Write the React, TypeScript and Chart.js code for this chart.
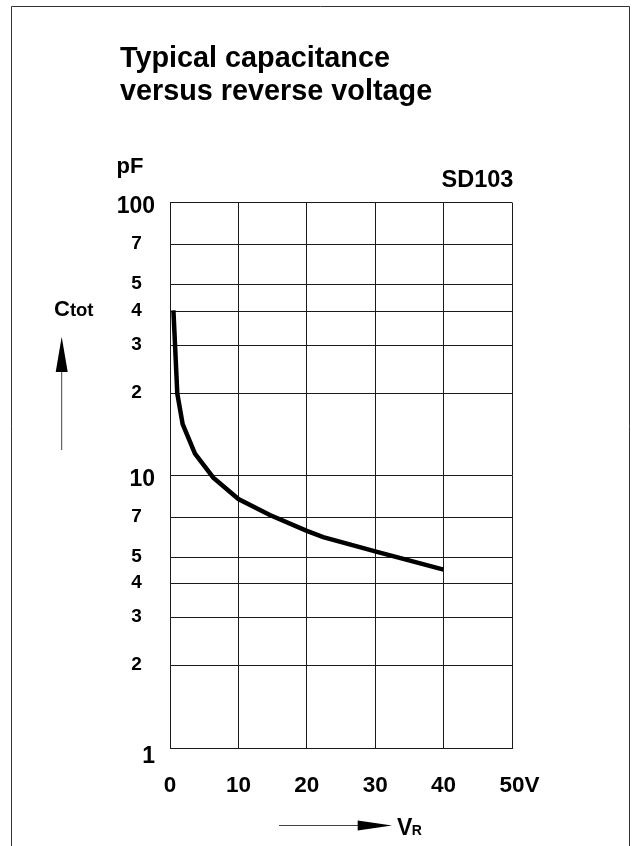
import React, { useEffect, useRef } from "react";
import { Chart, registerables } from "chart.js";

Chart.register(...registerables);

// ---- data ----
const vrVolts = [0.5, 1.07, 1.85, 3.65, 6.33, 10, 14.6, 20, 22.4, 30, 40];
const ctotPf = [40.2, 19.9, 15.4, 12.0, 9.8, 8.18, 7.15, 6.25, 5.93, 5.26, 4.51];

const yTickValues = [1, 2, 3, 4, 5, 7, 10, 20, 30, 40, 50, 70, 100];
const yTickLabels = ["1", "2", "3", "4", "5", "7", "10", "2", "3", "4", "5", "7", "100"];
const yMajorTicks = [1, 10, 100];

const xTickValues = [0, 10, 20, 30, 40, 50];
const xTickLabels = ["0", "10", "20", "30", "40", "50V"];

const titleLines = ["Typical capacitance", "versus reverse voltage"];
const unitLabel = "pF";
const deviceLabel = "SD103";

const FONT = '"Liberation Sans", Arial, Helvetica, sans-serif';

const decorPlugin = {
  id: "decor",
  afterDraw(chart: any) {
    const ctx: CanvasRenderingContext2D = chart.ctx;
    const xs = chart.scales.x;
    const ys = chart.scales.y;
    ctx.save();

    // outer frame (no bottom edge)
    ctx.strokeStyle = "#333";
    ctx.lineWidth = 1;
    ctx.beginPath();
    ctx.moveTo(11.5, 846);
    ctx.lineTo(11.5, 6.5);
    ctx.lineTo(629.5, 6.5);
    ctx.lineTo(629.5, 846);
    ctx.stroke();

    ctx.fillStyle = "#000";
    ctx.textBaseline = "alphabetic";

    // title
    ctx.font = `bold 28.8px ${FONT}`;
    ctx.textAlign = "left";
    ctx.fillText(titleLines[0], 120, 67);
    ctx.fillText(titleLines[1], 120, 100);

    // unit & device
    ctx.font = `bold 22px ${FONT}`;
    ctx.fillText(unitLabel, 116.5, 173);
    ctx.font = `bold 23.5px ${FONT}`;
    ctx.fillText(deviceLabel, 441.5, 187);

    // y tick labels
    yTickValues.forEach((v, i) => {
      const py = ys.getPixelForValue(v);
      if (yMajorTicks.includes(v)) {
        ctx.font = `bold 23px ${FONT}`;
        ctx.textAlign = "right";
        const off = v === ys.min ? 15 : 10.5;
        ctx.fillText(yTickLabels[i], 155, py + off);
      } else {
        ctx.font = `bold 19px ${FONT}`;
        ctx.textAlign = "center";
        ctx.fillText(yTickLabels[i], 136.5, py + 4.5);
      }
    });

    // x tick labels
    ctx.font = `bold 22.5px ${FONT}`;
    const xBase = ys.getPixelForValue(ys.min) + 43.5;
    xTickValues.forEach((v, i) => {
      const px = xs.getPixelForValue(v);
      const label = xTickLabels[i];
      const numPart = label.replace(/[^0-9.]/g, "");
      const w = ctx.measureText(numPart).width;
      ctx.textAlign = "left";
      ctx.fillText(label, px - w / 2, xBase);
    });

    // Ctot label
    ctx.textAlign = "left";
    ctx.font = `bold 22px ${FONT}`;
    ctx.fillText("C", 54, 315.7);
    const cw = ctx.measureText("C").width;
    ctx.font = `bold 18.5px ${FONT}`;
    ctx.fillText("tot", 54 + cw, 315.7);

    // up arrow
    ctx.strokeStyle = "#444";
    ctx.lineWidth = 1;
    ctx.beginPath();
    ctx.moveTo(61.7, 371);
    ctx.lineTo(61.7, 450);
    ctx.stroke();
    ctx.beginPath();
    ctx.moveTo(61.7, 336.7);
    ctx.lineTo(67.7, 372);
    ctx.lineTo(55.7, 372);
    ctx.closePath();
    ctx.fill();

    // right arrow + VR
    ctx.beginPath();
    ctx.moveTo(279, 825.5);
    ctx.lineTo(359, 825.5);
    ctx.stroke();
    ctx.beginPath();
    ctx.moveTo(392, 825.5);
    ctx.lineTo(357.7, 820.5);
    ctx.lineTo(357.7, 830.5);
    ctx.closePath();
    ctx.fill();
    ctx.font = `bold 23px ${FONT}`;
    ctx.fillText("V", 397, 835);
    const vw = ctx.measureText("V").width;
    ctx.font = `bold 14px ${FONT}`;
    ctx.fillText("R", 397 + vw - 0.5, 835);

    ctx.restore();
  },
};

export default function App() {
  const ref = useRef<HTMLCanvasElement | null>(null);

  useEffect(() => {
    if (!ref.current) return;
    const gridColor = "#1a1a1a";
    const chart = new Chart(ref.current, {
      type: "line",
      data: {
        datasets: [
          {
            data: vrVolts.map((v, i) => ({ x: v, y: ctotPf[i] })),
            borderColor: "#000",
            borderWidth: 4.5,
            pointRadius: 0,
            tension: 0,
            fill: false,
            borderCapStyle: "butt",
            borderJoinStyle: "miter",
          },
          {
            data: vrVolts.map((v, i) => ({ x: v, y: ctotPf[i] })),
            borderColor: "#555",
            borderWidth: 1,
            pointRadius: 0,
            tension: 0,
            fill: false,
          },
        ],
      },
      options: {
        responsive: false,
        animation: false,
        events: [],
        layout: { padding: { left: 170, top: 202.5, right: 123, bottom: 98 } },
        plugins: {
          legend: { display: false },
          tooltip: { enabled: false },
          title: { display: false },
        },
        scales: {
          x: {
            type: "linear",
            min: 0,
            max: 50,
            afterBuildTicks: (s: any) => {
              s.ticks = xTickValues.map((v) => ({ value: v }));
            },
            afterFit: (s: any) => {
              s.height = 0;
            },
            ticks: { display: false },
            grid: { color: gridColor, lineWidth: 1, drawTicks: false },
            border: { display: true, color: gridColor, width: 1 },
          },
          y: {
            type: "logarithmic",
            min: 1,
            max: 100,
            afterBuildTicks: (s: any) => {
              s.ticks = yTickValues.map((v) => ({ value: v }));
            },
            afterFit: (s: any) => {
              s.width = 0;
            },
            ticks: { display: false },
            grid: { color: gridColor, lineWidth: 1, drawTicks: false },
            border: { display: true, color: gridColor, width: 1 },
          },
        },
      } as any,
      plugins: [decorPlugin],
    });
    return () => chart.destroy();
  }, []);

  return (
    <div style={{ position: "absolute", left: 0, top: 0, width: 635, height: 846, background: "#fff" }}>
      <canvas ref={ref} width={635} height={846} style={{ width: 635, height: 846, display: "block" }} />
    </div>
  );
}
